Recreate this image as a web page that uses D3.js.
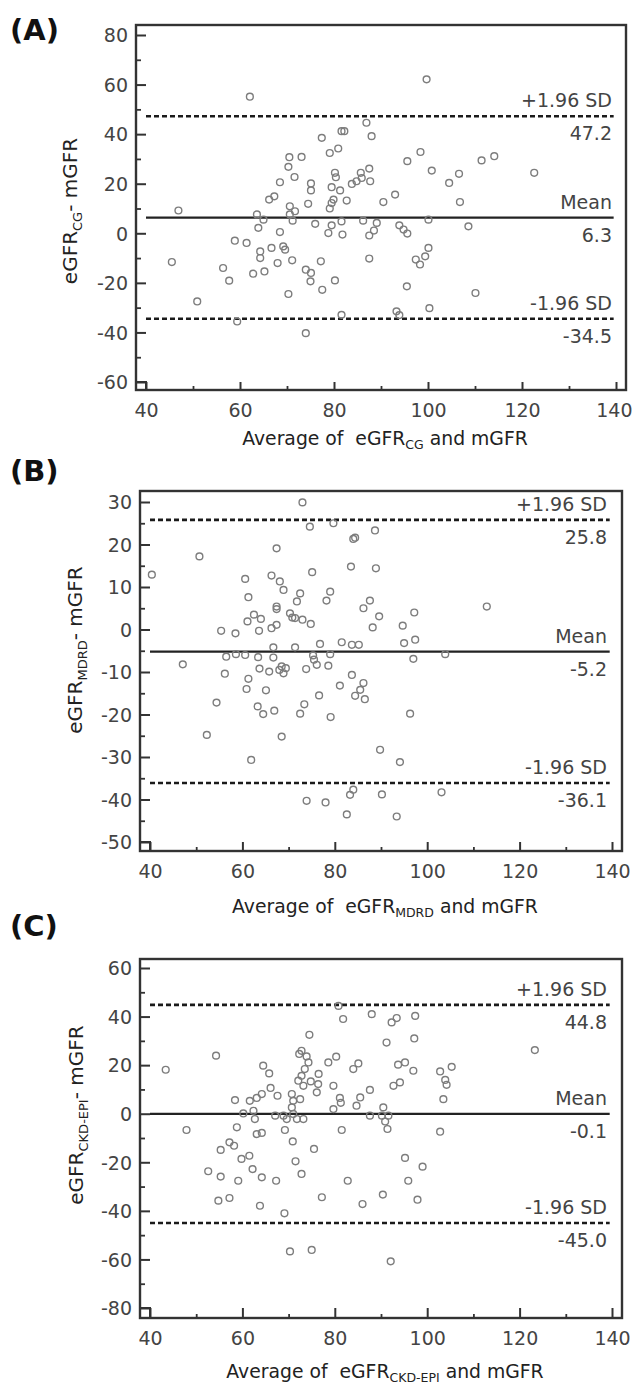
<!DOCTYPE html>
<html><head><meta charset="utf-8">
<script src="https://cdn.jsdelivr.net/npm/d3@7"></script>
<style>body{margin:0;background:#fff}svg{display:block}</style>
</head><body>
<svg id="c" width="633" height="1385"></svg>
<script>
// ---------- data ----------
const xTicks = [40, 60, 80, 100, 120, 140];
const xMinor = [50, 70, 90, 110, 130];

const cgTicks = [-60, -40, -20, 0, 20, 40, 60, 80];
const mdrdTicks = [-50, -40, -30, -20, -10, 0, 10, 20, 30];
const epiTicks = [-80, -60, -40, -20, 0, 20, 40, 60];

// Bland-Altman limits: [mean, +1.96 SD, -1.96 SD]
const cgStats = [6.3, 47.2, -34.5];
const mdrdStats = [-5.2, 25.8, -36.1];
const epiStats = [-0.1, 44.8, -45.0];

const cgAvg = [62.1,46.9,77.4,70.3,70.5,73.1,71.6,68.5,75.1,75.1,66.2,67.3,70.6,71.7,74.5,63.6,65.0,70.6,45.5,50.9,56.4,57.7,58.9,59.4,61.4,62.8,65.2,63.9,64.3,64.3,66.7,68.0,68.5,69.2,69.6,71.1,70.3,71.2,74.0,75.1,75.0,74.0,76.0,77.2,77.5,79.5,78.8,81.6,81.8,86.2,89.1,88.5,87.5,93.9,94.8,95.6,100.1,108.6,80.2,87.5,97.4,98.3,99.4,100.1,95.5,110.1,81.6,93.3,93.9,100.3,99.7,86.9,88.0,81.6,82.2,79.1,80.9,80.2,80.4,79.5,81.3,79.9,79.5,82.7,79.1,83.8,84.8,85.7,87.5,85.9,87.7,90.5,93.0,95.6,98.4,100.8,104.5,106.6,111.4,114.1,106.8,122.6];
const cgDiff = [55.1,9.2,38.5,26.8,30.7,30.8,22.7,20.6,20.1,17.3,13.6,14.9,10.9,8.9,11.9,7.6,5.5,7.6,-11.6,-27.5,-14.0,-19.1,-3.0,-35.6,-3.9,-16.3,-15.4,2.2,-7.3,-10.0,-5.9,-12.0,0.5,-5.3,-6.6,-10.9,-24.5,5.1,-14.7,-16.0,-19.4,-40.3,3.8,-11.3,-22.8,3.2,0.1,4.8,-0.5,5.1,4.2,1.1,-0.9,3.2,1.5,-0.1,5.5,2.8,-19.0,-10.2,-10.6,-12.6,-9.3,-5.9,-21.4,-24.1,-32.9,-31.5,-33.0,-30.2,62.1,44.6,39.2,41.2,41.2,32.4,34.2,24.4,22.6,18.6,17.3,13.6,12.2,13.2,10.0,19.9,21.0,24.4,26.1,22.3,21.0,12.6,15.6,29.1,32.8,25.3,20.3,24.0,29.4,31.1,12.6,24.4];

const mdrdAvg = [40.4,50.7,55.4,58.5,60.6,61.3,61.1,62.5,64.0,63.6,66.3,67.4,66.3,67.4,68.1,68.9,67.4,67.4,70.3,70.8,71.4,71.8,72.5,73.0,74.6,75.1,73.0,74.8,66.7,71.4,79.7,84.4,84.0,88.7,83.5,88.9,79.0,78.2,86.2,87.6,89.6,88.2,97.2,94.7,112.9,81.5,83.7,85.2,95.0,97.4,47.1,56.5,56.2,58.6,60.6,54.4,52.3,61.3,60.9,61.9,63.4,63.7,63.3,64.5,65.1,65.8,66.7,66.9,68.0,68.9,68.5,69.4,68.5,73.8,72.5,73.4,73.9,75.3,76.1,76.6,78.6,79.0,75.5,79.1,81.1,83.7,86.2,85.5,84.4,86.5,89.8,94.1,96.3,97.0,103.9,78.0,83.3,84.0,82.6,90.2,93.4,103.1,76.8];
const mdrdDiff = [12.9,17.2,-0.3,-0.9,11.9,7.6,1.9,3.5,2.5,-0.3,0.3,1.1,12.7,19.1,11.3,9.3,5.4,4.8,3.8,2.8,2.7,6.6,8.5,29.9,24.2,13.5,2.3,1.3,-4.2,-4.2,25.0,21.6,21.3,23.3,14.8,14.4,8.9,6.8,5.0,6.8,3.1,0.5,4.0,0.9,5.4,-3.0,-3.6,-3.6,-3.2,-2.4,-8.2,-6.4,-10.4,-5.8,-6.0,-17.2,-24.8,-11.6,-14.0,-30.7,-6.5,-9.2,-18.1,-19.9,-14.3,-9.9,-6.6,-19.1,-9.5,-10.3,-8.7,-9.1,-25.2,-9.3,-19.8,-17.6,-40.3,-6.1,-8.3,-15.5,-8.5,-5.8,-7.1,-20.6,-13.2,-10.7,-12.6,-14.2,-15.6,-16.4,-28.3,-31.2,-19.8,-6.9,-5.8,-40.7,-38.9,-37.7,-43.5,-38.8,-44.0,-38.3,-3.4];

const epiAvg = [43.4,54.3,74.5,72.3,72.8,73.9,64.5,65.8,73.5,72.8,72.1,76.5,74.8,76.4,73.2,66.1,64.2,63.1,61.6,67.6,58.4,70.7,71.0,72.5,76.1,80.8,81.8,88.0,92.3,93.4,97.4,91.2,97.2,123.3,74.3,78.6,80.3,84.0,85.1,93.7,95.2,97.0,102.8,105.3,103.9,104.2,103.5,79.7,81.1,81.3,85.5,87.6,92.7,94.1,79.7,84.7,90.5,47.9,52.6,54.8,57.2,55.3,57.2,58.2,55.3,58.8,59.1,59.8,61.5,62.2,64.2,63.8,60.2,62.4,62.7,63.1,64.2,67.3,67.1,68.9,69.6,69.2,69.1,70.7,71.0,71.8,73.2,70.9,71.5,72.8,75.5,77.2,70.3,75.0,87.6,90.2,91.6,90.9,91.4,81.5,102.8,82.8,86.0,90.4,95.2,99.0,95.9,97.9,92.1];
const epiDiff = [18.1,23.9,32.5,24.6,25.9,23.6,19.8,16.6,18.4,15.6,13.6,16.4,13.3,12.2,11.5,10.6,8.1,6.5,5.3,7.4,5.6,8.1,5.3,6.0,8.8,44.4,39.0,41.0,37.6,39.4,40.3,29.3,31.0,26.2,21.1,21.1,23.5,18.4,20.7,20.2,21.1,17.7,17.4,19.3,13.9,11.9,6.0,11.5,6.5,4.5,6.7,9.8,11.5,12.9,1.9,3.3,2.6,-6.7,-23.7,-35.8,-34.7,-14.9,-11.8,-13.2,-25.9,-5.6,-27.6,-18.6,-17.3,-22.8,-26.2,-37.9,0.1,1.2,-2.2,-8.4,-7.9,-27.6,-0.8,-0.8,-2.2,-6.7,-41.0,2.6,-0.1,-2.2,-2.2,-11.4,-19.6,-24.8,-14.5,-34.4,-56.7,-56.1,-0.8,-0.8,-0.8,-3.2,-6.3,-6.7,-7.4,-27.6,-37.2,-33.3,-18.2,-21.8,-27.6,-35.4,-60.8];

// ---------- layout ----------
const panels = [
  {letter:"(A)", sub:"CG", avg:cgAvg, diff:cgDiff, stats:cgStats, yTicks:cgTicks, minorStep:10,
   L:136, T:25, R:626, B:390, x0:146, x1:616, yb:382, yt:35, letterY:31, xTitleY:438, yTitleX:77, yTitleY:211, labelEnd:612},
  {letter:"(B)", sub:"MDRD", avg:mdrdAvg, diff:mdrdDiff, stats:mdrdStats, yTicks:mdrdTicks, minorStep:5,
   L:140, T:491, R:622, B:851, x0:150, x1:612, yb:842, yt:502, letterY:472, xTitleY:906, yTitleX:82, yTitleY:650, labelEnd:607},
  {letter:"(C)", sub:"CKD-EPI", avg:epiAvg, diff:epiDiff, stats:epiStats, yTicks:epiTicks, minorStep:10,
   L:140, T:959, R:622, B:1318, x0:150, x1:612, yb:1308, yt:968, letterY:927, xTitleY:1371, yTitleX:83, yTitleY:1115, labelEnd:607}
];

const FONT = "'DejaVu Sans', sans-serif";
const W = 633;
const svg = d3.select("#c");

panels.forEach(p => {
  const g = svg.append("g");
  const x = d3.scaleLinear().domain([xTicks[0], xTicks[xTicks.length - 1]]).range([p.x0, p.x1]);
  const yMin = p.yTicks[0], yMax = p.yTicks[p.yTicks.length - 1];
  const y = d3.scaleLinear().domain([yMin, yMax]).range([p.yb, p.yt]);
  const yMinor = d3.range(yMin, yMax + 0.001, p.minorStep).filter(v => !p.yTicks.includes(v));

  // frame
  g.append("rect").attr("x", p.L).attr("y", p.T).attr("width", p.R - p.L).attr("height", p.B - p.T)
    .attr("fill", "none").attr("stroke", "#333").attr("stroke-width", 2.4);
  // small corner square
  g.append("path").attr("d", `M${p.L},${y(yMin)}H${x(xTicks[0])}V${p.B}`)
    .attr("fill", "none").attr("stroke", "#333").attr("stroke-width", 2);

  // y axis major
  const ya = g.append("g").attr("transform", `translate(${p.L},0)`)
    .call(d3.axisLeft(y).tickValues(p.yTicks).tickSize(-(p.x0 - p.L)).tickPadding(8).tickFormat(d => String(d)));
  ya.select(".domain").remove();
  ya.selectAll("line").attr("stroke", "#333").attr("stroke-width", 2);
  ya.selectAll("text").attr("font-size", 19).attr("font-family", FONT).attr("fill", "#444").attr("dy", "0.36em");
  // y axis minor
  const ym = g.append("g").attr("transform", `translate(${p.L},0)`)
    .call(d3.axisLeft(y).tickValues(yMinor).tickSize(-5).tickFormat(""));
  ym.select(".domain").remove();
  ym.selectAll("line").attr("stroke", "#333").attr("stroke-width", 1.8);

  // x axis major
  const xa = g.append("g").attr("transform", `translate(0,${p.B})`)
    .call(d3.axisBottom(x).tickValues(xTicks).tickSize(-(p.B - y(yMin))).tickFormat(d => String(d)));
  xa.select(".domain").remove();
  xa.selectAll("line").attr("stroke", "#333").attr("stroke-width", 2);
  xa.selectAll("text").attr("font-size", 19).attr("font-family", FONT).attr("fill", "#444")
    .attr("y", 20).attr("dy", "0.36em");
  // keep the last label inside the page
  xa.selectAll(".tick").filter(d => x(d) + 18 > W).select("text")
    .attr("text-anchor", "end").attr("x", d => W - 1 - x(d));
  const xm = g.append("g").attr("transform", `translate(0,${p.B})`)
    .call(d3.axisBottom(x).tickValues(xMinor).tickSize(-4).tickFormat(""));
  xm.select(".domain").remove();
  xm.selectAll("line").attr("stroke", "#333").attr("stroke-width", 1.8);

  // reference lines
  const [mean, up, lo] = p.stats;
  const lx1 = x(40), lx2 = x(139.5);
  g.append("line").attr("x1", lx1).attr("x2", lx2).attr("y1", y(mean)).attr("y2", y(mean))
    .attr("stroke", "#222").attr("stroke-width", 2.2);
  [up, lo].forEach(v => {
    g.append("line").attr("x1", lx1).attr("x2", lx2).attr("y1", y(v)).attr("y2", y(v))
      .attr("stroke", "#1a1a1a").attr("stroke-width", 2.6).attr("stroke-dasharray", "5,3");
  });

  // points
  g.append("g").selectAll("circle").data(d3.zip(p.avg, p.diff)).join("circle")
    .attr("cx", d => x(d[0])).attr("cy", d => y(d[1])).attr("r", 3.4)
    .attr("fill", "none").attr("stroke", "#7d7d7d").attr("stroke-width", 1.4);

  // line labels
  const lab = (txt, yy) => g.append("text").attr("x", p.labelEnd).attr("y", yy)
    .attr("text-anchor", "end").attr("font-size", 19).attr("font-family", FONT).attr("fill", "#444").text(txt);
  lab("+1.96 SD", y(up) - 9); lab(up.toFixed(1), y(up) + 24);
  lab("Mean", y(mean) - 9); lab(mean.toFixed(1), y(mean) + 24);
  lab("-1.96 SD", y(lo) - 9); lab(lo.toFixed(1), y(lo) + 24);

  // panel letter
  g.append("text").attr("x", 10).attr("y", p.letterY + 9).attr("font-size", 29).attr("font-weight", "bold")
    .attr("font-family", FONT).attr("fill", "#111").text(p.letter);

  // x title
  const xt = g.append("text").attr("x", 385).attr("y", p.xTitleY).attr("dy", "0.36em")
    .attr("text-anchor", "middle").attr("font-size", 18.8).attr("font-family", FONT).attr("fill", "#222")
    .style("white-space", "pre");
  xt.append("tspan").text("Average of  eGFR");
  xt.append("tspan").attr("font-size", 12.5).attr("dy", 4).text(p.sub);
  xt.append("tspan").attr("dy", -4).text(" and mGFR");

  // y title
  const yt = g.append("text").attr("transform", `translate(${p.yTitleX},${p.yTitleY}) rotate(-90)`)
    .attr("text-anchor", "middle").attr("font-size", 20).attr("font-family", FONT).attr("fill", "#222");
  yt.append("tspan").text("eGFR");
  yt.append("tspan").attr("font-size", 13).attr("dy", 5).text(p.sub);
  yt.append("tspan").attr("dy", -5).text("- mGFR");
});
</script>
</body></html>
